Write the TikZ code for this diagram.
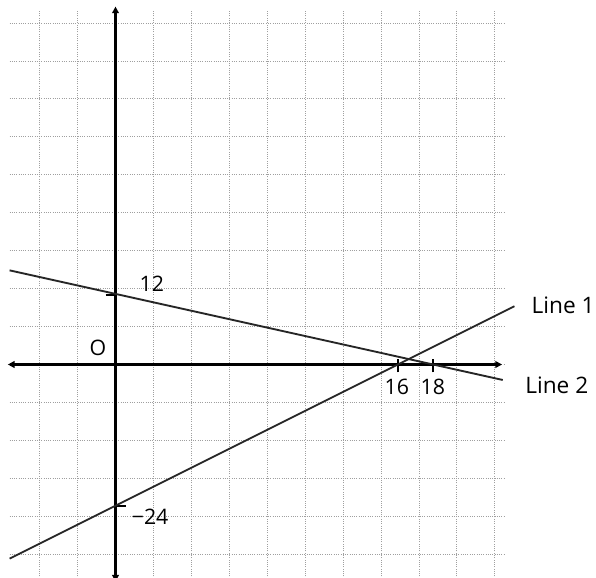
\documentclass[tikz,border=0pt]{standalone}
\usepackage{fontspec}
\setmainfont{Open Sans}
\usetikzlibrary{arrows.meta}
\begin{document}
\begin{tikzpicture}[x=26.475pt,y=26.475pt,
  gridline/.style={gray!75,densely dotted,line width=0.7pt},
  axisline/.style={line width=2pt,{Triangle[length=5pt,width=5pt]}-{Triangle[length=5pt,width=5pt]}},
  graphline/.style={line width=1.4pt,black!85},
  tickmark/.style={line width=1.4pt},
  lbl/.style={font=\fontsize{16}{18}\selectfont,inner sep=0pt}]
\useasboundingbox (-3.272,-6.020) rectangle (13.612,10.326);
\fill[white] (-3.272,-6.020) rectangle (13.612,10.326);
% grid
\draw[gridline] (-3,-6) grid (11,10);
% axes
\coordinate (xl) at (-3.05,0);
\coordinate (xr) at (10.95,0);
\coordinate (yb) at (0,-6.15);
\coordinate (yt) at (0,10.14);
\draw[axisline] (xl) -- (xr);
\draw[axisline] (yb) -- (yt);
% ticks
\coordinate (t16a) at (8,-0.22); \coordinate (t16b) at (8,0.15);
\coordinate (t18a) at (9,-0.22); \coordinate (t18b) at (9,0.15);
\coordinate (t12a) at (-0.28,1.97); \coordinate (t12b) at (0,1.97);
\coordinate (t24a) at (0,-4); \coordinate (t24b) at (0.3,-4);
\draw[tickmark] (t16a) -- (t16b);
\draw[tickmark] (t18a) -- (t18b);
\draw[tickmark] (t12a) -- (t12b);
\draw[tickmark] (t24a) -- (t24b);
% lines
\coordinate (l1s) at (-3,-5.5);
\coordinate (l1e) at (11.3,1.65);
\coordinate (l2s) at (-3,2.667);
\coordinate (l2e) at (10.97,-0.438);
\draw[graphline] (l1s) -- (l1e);
\draw[graphline] (l2s) -- (l2e);
% labels
\node[lbl] (origin) at (-0.50,0.46) {O};
\node[lbl] (n12) at (1.03,2.30) {12};
\node[lbl] (n16) at (7.97,-0.63) {16};
\node[lbl] (n18) at (8.99,-0.63) {18};
\node[lbl] (n24) at (0.98,-4.31) {−24};
\node[lbl,font=\fontsize{17}{19}\selectfont] (line1) at (12.68,1.69) {Line 1};
\node[lbl,font=\fontsize{17}{19}\selectfont] (line2) at (12.5,-0.58) {Line 2};
\end{tikzpicture}
\end{document}
